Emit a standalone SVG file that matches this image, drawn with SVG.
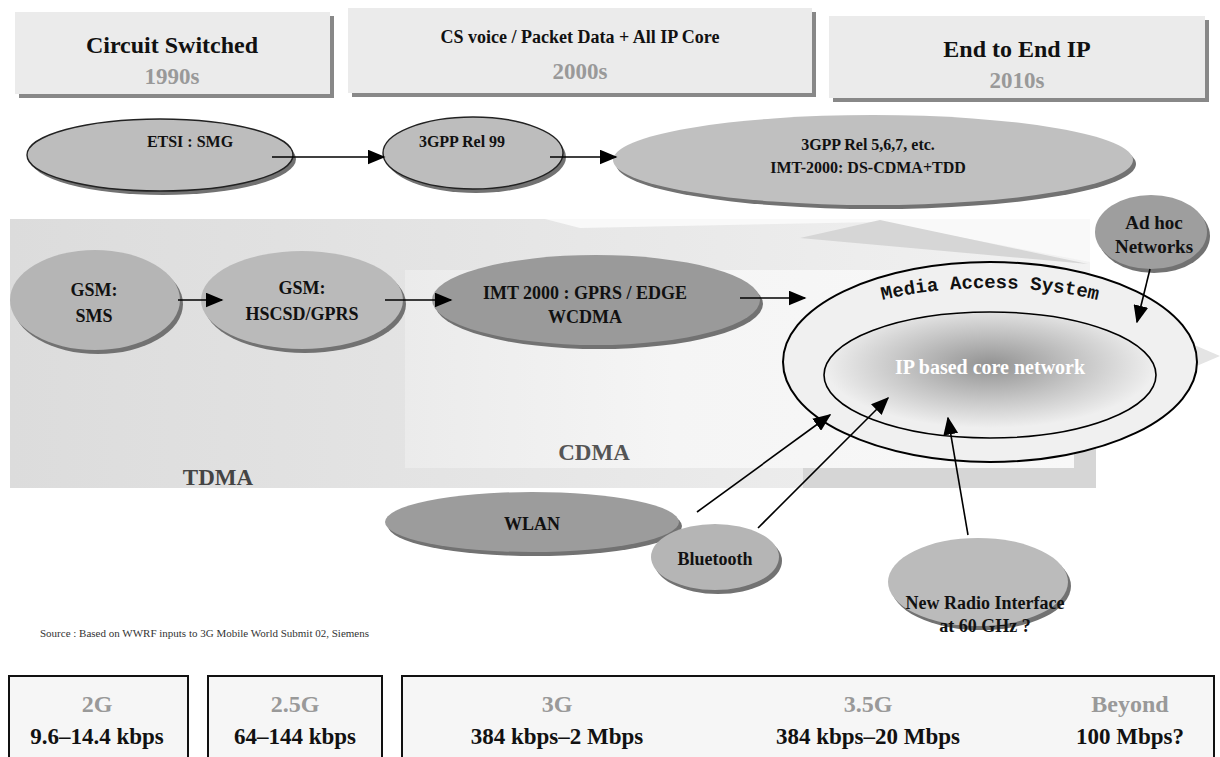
<svg xmlns="http://www.w3.org/2000/svg" width="1220" height="757" viewBox="0 0 1220 757">
<defs>
<style>
text{font-family:"Liberation Serif","Times New Roman",serif;font-weight:bold;text-anchor:middle;fill:#111}
.hdr{font-size:24px}
.hdr2{font-size:18px}
.yr{font-size:23px;fill:#999}
.lbl{font-size:16px}
.lbm{font-size:18px}
.big{font-size:23px;fill:#444}
.gen{font-size:24px;fill:#999}
.rate{font-size:23px}
.box{fill:#ebebeb}
.shadow{fill:#888}
.ell{stroke:#222;stroke-width:1.4}
.esh{fill:#727272}
.conn{stroke:#000;stroke-width:1.6;fill:none;marker-end:url(#ah)}
.rbox{fill:#f6f6f6;stroke:#111;stroke-width:2}
</style>
<marker id="ah" viewBox="0 0 12 10" refX="11" refY="5" markerWidth="18" markerHeight="15" markerUnits="userSpaceOnUse" orient="auto">
<path d="M0,0 L12,5 L0,10 Z" fill="#000"/>
</marker>
<linearGradient id="bgg" x1="0" y1="0" x2="1" y2="0">
<stop offset="0" stop-color="#dcdcdc"/>
<stop offset="0.4" stop-color="#e4e4e4"/>
<stop offset="1" stop-color="#f2f2f2"/>
</linearGradient>
<linearGradient id="cdg" x1="0" y1="0" x2="1" y2="0">
<stop offset="0" stop-color="#ebebeb"/>
<stop offset="0.4" stop-color="#f5f5f5"/>
<stop offset="1" stop-color="#f8f8f8"/>
</linearGradient>
<radialGradient id="core" cx="0.5" cy="0.42" r="0.5">
<stop offset="0" stop-color="#929292"/>
<stop offset="0.55" stop-color="#c6c6c6"/>
<stop offset="1" stop-color="#efefef"/>
</radialGradient>
</defs>
<rect width="1220" height="757" fill="#fff"/>

<g id="background">
<rect x="10" y="219" width="1080" height="269" fill="url(#bgg)"/>
<polygon points="545,219 1090,219 1090,262 880,222 580,228" fill="#f9f9f9"/>
<polygon points="800,238 880,220 1088,264" fill="#d6d6d6"/>
<rect x="405" y="270" width="670" height="198" fill="url(#cdg)"/>
<polygon points="1000,262 1220,356 1000,450" fill="#e4e4e4"/>
<rect x="1074" y="440" width="22" height="48" fill="#d6d6d6"/>
<rect x="803" y="468" width="293" height="20" fill="#d6d6d6"/>
<text class="big" x="218" y="485">TDMA</text>
<text class="big" x="594" y="460" style="fill:#555">CDMA</text>
</g>

<g id="hdr-1990s">
<rect class="shadow" x="19" y="16" width="315" height="82"/>
<rect class="box" x="15" y="12" width="315" height="82"/>
<text class="hdr" x="172" y="53">Circuit Switched</text>
<text class="yr" x="172" y="84">1990s</text>
</g>
<g id="hdr-2000s">
<rect class="shadow" x="352" y="12" width="464" height="85"/>
<rect class="box" x="348" y="8" width="464" height="85"/>
<text class="hdr2" x="580" y="43">CS voice / Packet Data + All IP Core</text>
<text class="yr" x="580" y="79">2000s</text>
</g>
<g id="hdr-2010s">
<rect class="shadow" x="833" y="20" width="376" height="82"/>
<rect class="box" x="829" y="16" width="376" height="82"/>
<text class="hdr" x="1017" y="57">End to End IP</text>
<text class="yr" x="1017" y="88">2010s</text>
</g>

<g id="etsi-smg">
<ellipse class="esh" cx="163" cy="159" rx="133" ry="36"/>
<ellipse class="ell" cx="160" cy="155" rx="133" ry="36" fill="#bdbdbd"/>
<text class="lbl" x="190" y="147">ETSI : SMG</text>
</g>
<g id="rel99">
<ellipse class="esh" cx="476" cy="157" rx="90" ry="36"/>
<ellipse class="ell" cx="473" cy="153" rx="90" ry="36" fill="#bdbdbd"/>
<text class="lbl" x="462" y="147">3GPP Rel 99</text>
</g>
<g id="rel5">
<ellipse class="esh" cx="876" cy="164" rx="260" ry="45"/>
<ellipse cx="873" cy="160" rx="260" ry="45" fill="#c0c0c0"/>
<text class="lbl" x="868" y="150">3GPP Rel 5,6,7, etc.</text>
<text class="lbl" x="868" y="173">IMT-2000: DS-CDMA+TDD</text>
</g>

<g id="gsm-sms">
<ellipse class="esh" cx="98" cy="304" rx="85" ry="50"/>
<ellipse cx="95" cy="300" rx="85" ry="50" fill="#b5b5b5"/>
<text class="lbm" x="94" y="296">GSM:</text>
<text class="lbm" x="94" y="322">SMS</text>
</g>
<g id="gsm-hscsd">
<ellipse class="esh" cx="305" cy="304" rx="101" ry="49"/>
<ellipse cx="302" cy="300" rx="101" ry="49" fill="#bababa"/>
<text class="lbm" x="302" y="294">GSM:</text>
<text class="lbm" x="302" y="320">HSCSD/GPRS</text>
</g>
<g id="imt2000">
<ellipse class="esh" cx="599" cy="304" rx="164" ry="45"/>
<ellipse cx="596" cy="300" rx="164" ry="45" fill="#9a9a9a"/>
<text class="lbm" x="585" y="299">IMT 2000 : GPRS / EDGE</text>
<text class="lbm" x="585" y="323">WCDMA</text>
</g>

<g id="media-access">
<ellipse cx="990" cy="362" rx="207" ry="100" fill="#f0f0f0" stroke="#000" stroke-width="2"/>
<path id="masarc" d="M 790,364 A 200,76 0 0 1 1190,364" fill="none"/>
<text style="font-family:'Liberation Mono','Courier New',monospace;font-size:19px;text-anchor:middle"><textPath href="#masarc" startOffset="50%">Media Access System</textPath></text>
</g>
<g id="ip-core">
<ellipse cx="990" cy="375" rx="166" ry="63" fill="url(#core)" stroke="#000" stroke-width="1.6"/>
<text x="990" y="374" style="font-size:20px;fill:#fff">IP based core network</text>
</g>
<g id="adhoc">
<ellipse class="esh" cx="1154" cy="236" rx="56" ry="37"/>
<ellipse cx="1151" cy="232" rx="56" ry="37" fill="#9e9e9e"/>
<text class="lbm" x="1154" y="229" style="font-size:19px">Ad hoc</text>
<text class="lbm" x="1154" y="253" style="font-size:19px">Networks</text>
</g>

<g id="wlan">
<ellipse class="esh" cx="535" cy="526" rx="147" ry="30"/>
<ellipse cx="532" cy="522" rx="147" ry="30" fill="#9c9c9c"/>
<text class="lbm" x="532" y="530">WLAN</text>
</g>
<g id="bluetooth">
<ellipse class="esh" cx="718" cy="561" rx="64" ry="33"/>
<ellipse cx="715" cy="557" rx="64" ry="33" fill="#b5b5b5"/>
<text class="lbm" x="715" y="565">Bluetooth</text>
</g>
<g id="new-radio">
<ellipse class="esh" cx="981" cy="586" rx="90" ry="44"/>
<ellipse cx="978" cy="582" rx="90" ry="44" fill="#bbbbbb"/>
<text class="lbm" x="985" y="609">New Radio Interface</text>
<text class="lbm" x="985" y="632">at 60 GHz ?</text>
</g>

<g id="connectors">
<line class="conn" x1="272" y1="157" x2="384" y2="157"/>
<line class="conn" x1="550" y1="157" x2="616" y2="157"/>
<line class="conn" x1="178" y1="300" x2="222" y2="300"/>
<line class="conn" x1="385" y1="300" x2="451" y2="300"/>
<line class="conn" x1="740" y1="298" x2="805" y2="298"/>
<line class="conn" x1="1150" y1="269" x2="1137" y2="322"/>
<line class="conn" x1="697" y1="512" x2="830" y2="415"/>
<line class="conn" x1="758" y1="528" x2="888" y2="398"/>
<line class="conn" x1="968" y1="535" x2="948" y2="418"/>
</g>

<text x="40" y="637" style="font-weight:normal;font-size:11px;text-anchor:start;fill:#333">Source : Based on WWRF inputs to 3G Mobile World Submit 02, Siemens</text>

<g id="rate-2g">
<rect class="rbox" x="9" y="676" width="179" height="90"/>
<text class="gen" x="97" y="712">2G</text>
<text class="rate" x="97" y="744">9.6–14.4 kbps</text>
</g>
<g id="rate-25g">
<rect class="rbox" x="208" y="676" width="174" height="90"/>
<text class="gen" x="295" y="712">2.5G</text>
<text class="rate" x="295" y="744">64–144 kbps</text>
</g>
<g id="rate-3g-beyond">
<rect class="rbox" x="402" y="676" width="812" height="90"/>
<text class="gen" x="557" y="712">3G</text>
<text class="rate" x="557" y="744">384 kbps–2 Mbps</text>
<text class="gen" x="868" y="712">3.5G</text>
<text class="rate" x="868" y="744">384 kbps–20 Mbps</text>
<text class="gen" x="1130" y="712">Beyond</text>
<text class="rate" x="1130" y="744">100 Mbps?</text>
</g>
</svg>
